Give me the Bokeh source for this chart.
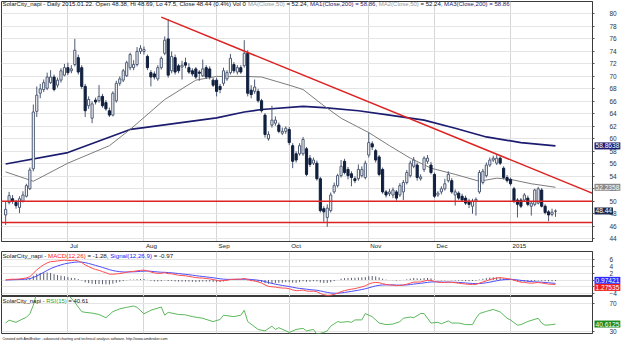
import numpy as np
import pandas as pd
from bokeh.plotting import figure
from bokeh.layouts import column
from bokeh.models import ColumnDataSource, Range1d, FixedTicker, Span, Label, Title
from bokeh.embed import file_html
from bokeh.resources import INLINE

# ---------------- data ----------------
opens = [47.8, 49.8, 50.4, 49.8, 49.0, 50.0, 50.8, 52.0, 55.2, 64.4, 67.3, 67.9, 68.1, 69.0, 69.9, 68.6, 69.4, 70.2,
         71.4, 70.9, 71.9, 73.0, 71.4, 68.4, 65.3, 63.3, 66.2, 66.1, 66.8, 65.8, 64.5, 63.8, 66.1, 68.9, 69.4, 70.1,
         71.4, 71.4, 71.9, 74.0, 74.0, 73.2, 70.6, 70.4, 69.6, 71.4, 73.7, 76.0, 70.9, 73.0, 71.7, 71.5, 72.2, 71.4,
         70.9, 71.2, 70.7, 70.1, 71.4, 71.2, 69.4, 69.4, 68.4, 68.9, 69.6, 70.6, 71.9, 70.7, 71.4, 71.7, 73.7, 67.8,
         67.6, 67.6, 66.1, 63.8, 60.0, 62.2, 62.5, 62.2, 60.9, 61.2, 61.5, 58.9, 57.6, 57.6, 57.6, 58.4, 56.9, 56.1,
         56.1, 53.6, 48.8, 47.4, 48.5, 51.5, 52.5, 54.1, 56.4, 55.1, 54.4, 53.6, 53.6, 54.1, 53.8, 57.4, 59.2, 58.1,
         57.1, 55.1, 51.5, 51.2, 51.0, 51.5, 51.0, 51.5, 53.0, 54.1, 55.6, 55.8, 53.6, 55.1, 56.4, 55.8, 54.3, 51.0,
         51.5, 52.0, 53.3, 53.3, 51.0, 51.3, 50.8, 50.5, 50.0, 49.2, 50.0, 51.5, 53.0, 54.1, 55.8, 56.6, 56.1, 56.9,
         55.3, 53.8, 53.5, 52.0, 50.2, 50.2, 50.2, 50.5, 49.2, 49.5, 49.7, 51.8, 49.2, 48.3, 47.9, 48.38]
highs = [50.0, 51.5, 51.0, 50.2, 50.8, 51.6, 52.8, 55.4, 65.5, 68.4, 68.8, 69.5, 70.6, 71.0, 70.3, 69.8, 71.3, 72.0,
         72.2, 71.8, 76.0, 73.5, 71.8, 68.8, 66.8, 66.0, 66.6, 68.6, 67.2, 66.2, 65.0, 67.6, 69.3, 70.0, 71.2, 72.5,
         73.8, 72.6, 74.7, 75.0, 74.8, 73.5, 71.0, 70.8, 71.8, 73.2, 76.4, 79.2, 74.0, 73.5, 72.0, 72.5, 73.0, 72.1,
         71.3, 71.5, 71.0, 72.7, 71.8, 71.6, 69.8, 69.8, 68.8, 71.4, 71.0, 73.6, 72.3, 71.8, 71.8, 75.8, 74.2, 68.6,
         69.5, 68.0, 66.4, 64.1, 61.2, 65.3, 63.6, 62.6, 61.8, 62.0, 61.9, 59.3, 58.0, 59.3, 60.3, 58.7, 57.4, 57.0,
         56.5, 53.9, 49.2, 49.5, 51.4, 53.0, 54.4, 56.6, 56.8, 55.5, 54.8, 54.0, 55.9, 55.6, 56.5, 61.0, 59.6, 58.4,
         57.4, 55.4, 51.8, 52.0, 52.2, 51.8, 52.9, 53.4, 55.0, 56.5, 57.1, 56.2, 54.3, 57.2, 57.4, 56.3, 54.6, 51.6,
         52.4, 53.6, 54.8, 53.7, 51.9, 51.6, 51.2, 50.9, 50.4, 50.4, 50.6, 55.0, 55.2, 56.2, 57.0, 57.3, 57.4, 57.2,
         55.6, 54.2, 53.8, 52.3, 50.5, 50.5, 51.3, 50.9, 50.0, 52.0, 52.3, 52.1, 49.5, 48.6, 48.8, 48.69]
lows = [46.2, 49.5, 49.6, 48.8, 48.1, 49.8, 50.6, 51.8, 54.8, 63.5, 66.5, 67.5, 67.8, 68.8, 67.6, 68.2, 69.0, 70.0,
        70.2, 70.5, 71.6, 70.3, 68.0, 63.5, 64.8, 62.5, 65.5, 65.8, 65.0, 64.5, 63.5, 63.6, 65.8, 68.5, 69.1, 69.9,
        71.0, 71.0, 71.6, 73.6, 73.5, 71.0, 68.4, 69.5, 69.3, 71.1, 73.4, 69.8, 70.5, 70.3, 70.5, 69.5, 71.3, 70.4,
        70.0, 69.6, 69.3, 69.9, 69.6, 69.5, 68.3, 66.8, 67.3, 68.5, 69.3, 70.3, 70.5, 70.3, 70.4, 71.4, 66.8, 66.5,
        67.2, 65.8, 64.2, 60.2, 59.7, 61.8, 62.1, 60.9, 60.6, 60.8, 59.0, 55.3, 56.2, 57.3, 57.3, 54.0, 55.5, 55.8,
        53.3, 48.2, 46.7, 45.9, 48.2, 51.2, 52.2, 53.8, 54.3, 53.5, 52.4, 52.9, 53.3, 53.8, 53.5, 57.0, 58.2, 56.2,
        54.0, 51.2, 50.6, 50.8, 50.5, 50.1, 50.7, 50.2, 52.7, 53.8, 55.3, 53.3, 53.3, 54.7, 56.0, 54.3, 50.5, 50.7,
        51.1, 51.7, 53.0, 51.2, 49.3, 50.2, 49.9, 49.4, 48.9, 48.0, 47.7, 51.2, 52.7, 53.8, 55.5, 56.3, 55.8, 55.8,
        53.5, 53.0, 52.5, 49.7, 47.4, 48.9, 49.9, 49.2, 47.7, 49.2, 49.5, 49.0, 47.9, 46.8, 47.6, 47.5]
closes = [48.7, 50.9, 50.0, 49.3, 50.4, 51.0, 52.5, 55.0, 64.3, 67.0, 68.0, 69.0, 69.9, 69.9, 67.9, 69.4, 70.9, 71.4,
          70.6, 71.2, 74.2, 70.7, 68.4, 64.5, 66.3, 65.6, 65.9, 66.8, 65.3, 64.8, 63.8, 67.3, 68.9, 69.6, 70.9, 72.2,
          73.5, 71.9, 74.0, 74.5, 74.3, 71.4, 69.9, 69.9, 71.4, 72.9, 75.8, 70.2, 73.2, 70.7, 70.9, 71.8, 71.8, 70.7,
          70.4, 69.9, 70.5, 71.2, 69.9, 69.9, 68.6, 67.6, 67.9, 70.9, 70.6, 72.9, 70.9, 71.4, 70.7, 73.7, 67.3, 67.1,
          68.3, 66.1, 64.5, 60.7, 60.7, 63.0, 63.0, 61.2, 61.2, 61.7, 59.4, 56.4, 56.6, 58.9, 59.9, 54.3, 55.9, 56.6,
          53.6, 48.5, 48.3, 48.9, 51.0, 52.5, 54.1, 55.6, 54.6, 54.1, 53.8, 53.3, 55.1, 55.1, 56.1, 59.4, 58.7, 56.6,
          54.3, 51.5, 51.0, 51.5, 51.8, 50.5, 52.5, 53.0, 54.6, 56.1, 56.6, 53.8, 53.9, 56.9, 56.9, 54.6, 50.8, 51.3,
          52.0, 52.8, 54.3, 51.5, 51.5, 50.5, 50.2, 49.7, 49.5, 50.0, 50.3, 54.6, 54.8, 55.8, 56.6, 56.9, 56.9, 56.1,
          53.8, 53.3, 52.8, 50.0, 49.5, 49.2, 51.0, 49.5, 49.7, 51.8, 52.0, 49.2, 48.2, 47.8, 48.25, 48.44]

month_idx = [18, 40, 61, 82, 105, 124, 146]
month_labels = ["Jul", "Aug", "Sep", "Oct", "Nov", "Dec", "2015"]

ma50_idx = [0, 8, 18, 30, 36, 46, 55, 61, 69, 74, 82, 86, 92, 97, 105, 111, 117, 123, 130, 137, 142, 146, 152, 159]
ma50_val = [54.7, 53.2, 56.1, 58.9, 61.5, 66.3, 69.4, 70.0, 70.0, 69.9, 68.6, 67.9, 65.3, 63.3, 61.0, 58.9, 56.9,
            55.3, 54.3, 53.2, 53.7, 53.5, 52.8, 52.24]
ma200_idx = [0, 18, 36, 40, 61, 69, 74, 86, 92, 102, 111, 121, 130, 139, 149, 159]
ma200_val = [55.96, 57.8, 61.5, 61.8, 63.35, 64.3, 64.7, 65.2, 65.0, 64.5, 63.8, 63.0, 61.7, 60.3, 59.4, 58.86]

rsi_idx = [0, 1, 3, 5, 6, 7, 8, 9, 12, 15, 18, 20, 22, 23, 25, 27, 29, 31, 33, 35, 37, 38, 40, 42, 45, 46, 47, 50,
           52, 54, 57, 60, 62, 63, 66, 68, 69, 70, 73, 75, 77, 78, 79, 82, 84, 86, 87, 89, 90, 92, 93, 94, 96, 97,
           99, 100, 101, 103, 104, 106, 108, 110, 112, 114, 115, 117, 118, 120, 121, 123, 125, 126, 128, 129, 131,
           133, 135, 136, 137, 139, 141, 143, 145, 146, 148, 149, 151, 154, 155, 156, 158, 159]
rsi_val = [42, 46, 43, 48, 50, 55, 67, 84, 86, 85, 82, 71, 58, 57, 56, 54, 49.5, 58, 62, 64, 66, 64, 55, 60, 64.5,
           53, 57, 54, 53.5, 51, 48.7, 44, 47, 53, 51, 53, 60, 44, 33, 31, 37.6, 33, 35.5, 28.7, 33, 34.5, 31, 33,
           26.5, 28.7, 31, 37.6, 44, 43, 44, 43, 46.4, 46.4, 55.3, 51, 42, 39.8, 40.5, 44, 48.7, 50.5, 49.5, 55.3,
           55.3, 42, 43, 41, 45, 42, 42, 39.8, 39.8, 48.7, 55.3, 58.4, 61.1, 57.6, 48.7, 46.4, 38.9, 39.8, 44.2,
           48.7, 42, 38.9, 39.8, 40.61]

support_levels = [50.0, 46.6]
trend_x = [45, 170]
trend_y = [79.5, 51.2]

price_ticks = list(range(44, 81, 2))
macd_ticks = [6, 4, 2, 0, -2, -4]
rsi_ticks = [70, 30]

last_ma200, last_ma50, last_close = 58.8638, 52.2358, 48.44
last_signal, last_macd, last_rsi = -0.97421, -1.27535, 40.6125

# ---------------- helpers ----------------
FONT = "Liberation Sans"
AW = {' ': 278, '!': 278, '%': 889, '(': 333, ')': 333, ',': 278, '-': 333, '.': 278, '/': 278, ':': 278,
      '=': 584, '_': 556, 'A': 667, 'B': 667, 'C': 722, 'D': 722, 'G': 778, 'H': 722, 'I': 278, 'L': 556,
      'M': 833, 'O': 778, 'R': 722, 'S': 667, 'V': 667, 'a': 556, 'b': 556, 'c': 500, 'd': 556, 'e': 556,
      'f': 278, 'g': 556, 'h': 556, 'i': 222, 'k': 500, 'l': 222, 'm': 833, 'n': 556, 'o': 556, 'p': 556,
      'r': 333, 's': 500, 't': 278, 'u': 556, 'v': 500, 'w': 722, 'x': 500, 'y': 500, 'z': 500}


def em(s):
    return sum(AW.get(c, 556) for c in s) / 1000.0


def rich(fig, segments, x0, y, width_px):
    full = "".join(t for t, _ in segments)
    fs = width_px / em(full)
    x = x0
    for t, col in segments:
        lead = len(t) - len(t.lstrip(" "))
        fig.add_layout(Label(x=x + em(t[:lead]) * fs, y=y, x_units="screen", y_units="screen",
                             text=t.strip(), text_color=col, text_font=FONT,
                             text_font_size=f"{fs:.2f}px", text_baseline="middle", text_align="left"))
        x += em(t) * fs


FW = 591
LEFT = 1
XR = Range1d(-1.2, 169.7)
H_MAIN, H_MACD, H_RSI = 240, 45, 37
GRID = "#e4e4e4"
VGRID = "#d6d6d6"
OUTLINE = "#3a3a3a"
DARK = "#11203f"
EDGE = "#4d5a74"
NAVY = "#1c1c70"


def base(fh, ylo, yhi, ticks, xaxis=False):
    p = figure(frame_width=FW, frame_height=fh, x_range=XR, y_range=Range1d(ylo, yhi),
               y_axis_location="right", x_axis_location="below" if xaxis else None,
               toolbar_location=None, output_backend="svg",
               min_border_left=LEFT, min_border_right=30, min_border_top=0, min_border_bottom=0)
    p.outline_line_color = OUTLINE
    p.outline_line_width = 1
    p.background_fill_color = "white"
    p.border_fill_color = "white"
    ya = p.yaxis[0]
    ya.ticker = FixedTicker(ticks=ticks)
    ya.major_label_text_font = FONT
    ya.major_label_text_font_size = "6.5px"
    ya.major_label_text_color = "#333333"
    ya.major_tick_out = 2
    ya.major_tick_in = 0
    ya.minor_tick_out = 0
    ya.minor_tick_in = 0
    ya.major_tick_line_color = "#555555"
    ya.axis_line_color = OUTLINE
    ya.major_label_standoff = 15
    p.ygrid.grid_line_color = GRID
    p.xgrid.ticker = FixedTicker(ticks=month_idx)
    p.xgrid.grid_line_color = VGRID
    return p


def vlabel(fig, yv, txt, bg, fg="white", dy=0):
    # placed in the right side panel so that it is not clipped to the frame
    fig.add_layout(Label(x=LEFT + FW + 2, x_units="canvas", y=yv, y_units="data", y_offset=dy, text=txt,
                         text_font=FONT, text_font_size="6.6px", text_color=fg, text_baseline="middle",
                         text_align="left", background_fill_color=bg, padding=1), "right")


# ---------------- main price panel ----------------
p = base(H_MAIN, 43.55, 82.0, price_ticks, xaxis=True)
p.min_border_top = 1

xa = p.xaxis[0]
px_per_bar = FW / (XR.end - XR.start)
lab_fs = 6.2
shift_ticks = []
overrides = {}
for m, lbl in zip(month_idx, month_labels):
    t = round(m + (2 + em(lbl) * lab_fs / 2) / px_per_bar, 3)
    shift_ticks.append(t)
    overrides[t] = lbl
xa.ticker = FixedTicker(ticks=shift_ticks)
xa.major_label_overrides = overrides
xa.major_label_text_font = FONT
xa.major_label_text_font_size = f"{lab_fs}px"
xa.major_label_text_color = "#222222"
xa.major_label_standoff = 0
xa.major_tick_out = 0
xa.major_tick_in = 0
xa.minor_tick_out = 0
xa.minor_tick_in = 0
xa.axis_line_color = OUTLINE

n = len(closes)
df = pd.DataFrame(dict(idx=list(range(n)), open=opens, high=highs, low=lows, close=closes))
df["top"] = df[["open", "close"]].max(axis=1)
df["bottom"] = df[["open", "close"]].min(axis=1)
up = df["close"] >= df["open"]
df["fill"] = np.where(up, "white", DARK)
df["edge"] = np.where(up, EDGE, DARK)
src = ColumnDataSource(df)

p.line(ma200_idx, ma200_val, line_color=NAVY, line_width=1.7)
p.line(ma50_idx, ma50_val, line_color="#7c7c7c", line_width=1)
p.segment(x0="idx", y0="low", x1="idx", y1="high", source=src, line_color=EDGE, line_width=1)
p.vbar(x="idx", top="top", bottom="bottom", width=0.62, source=src,
       fill_color="fill", line_color="edge", line_width=1)

for lv in support_levels:
    p.add_layout(Span(location=lv, dimension="width", line_color="#dd2222", line_width=1.5))
p.line(trend_x, trend_y, line_color="#dd2222", line_width=1.5)

rich(p, [("SolarCity_napi - Daily 2015.01.22. Open 48.38, Hi 48.69, Lo 47.5, Close 48.44 (0.4%) Vol 0 ", "#111111"),
         ("MA(Close,50)", "#999999"), (" = 52.24, ", "#111111"),
         ("MA1(Close,200) = 58.86, ", NAVY),
         ("MA2(Close,50)", "#999999"), (" = 52.24, ", "#111111"),
         ("MA3(Close,200) = 58.86", NAVY)], 1, H_MAIN - 2.6, 507)

vlabel(p, last_ma200, "58.8638", NAVY)
vlabel(p, last_ma50, "52.2358", "#8a8a8a")
vlabel(p, last_close, "48.44", "#1b2c4e")

# ---------------- MACD panel ----------------
cs = pd.Series(closes, dtype=float)
macd = cs.ewm(span=12, adjust=False).mean() - cs.ewm(span=26, adjust=False).mean()
signal = macd.ewm(span=9, adjust=False).mean()
hist = macd - signal
msrc = ColumnDataSource(dict(idx=list(range(n)), macd=macd.values, signal=signal.values,
                             hist=hist.values, zero=np.zeros(n)))

pm = base(H_MACD, -4.8, 8.3, macd_ticks)
pm.segment(x0="idx", y0="zero", x1="idx", y1="hist", source=msrc, line_color="#5a6070", line_width=1)
pm.line("idx", "signal", source=msrc, line_color="#4d4dff", line_width=1)
pm.line("idx", "macd", source=msrc, line_color="#ff4d4d", line_width=1)
rich(pm, [("SolarCity_napi - ", "#111111"), ("MACD(12,26)", "#ff2020"), (" = -1.28, ", "#111111"),
          ("Signal(12,26,9)", "#2020ff"), (" = -0.97", "#111111")], 1, H_MACD - 3.8, 170.6)
vlabel(pm, last_signal, "0.97421", "#2a2aff", dy=3)
vlabel(pm, last_macd, "1.27535", "#ee1c1c", dy=-3)

# ---------------- RSI panel ----------------
pr = base(H_RSI, 27.3, 79.3, rsi_ticks)
pr.line(rsi_idx, rsi_val, line_color="#5cb85c", line_width=1)
rich(pr, [("SolarCity_napi - ", "#111111"), ("RSI(15)", "#2e9e2e"), (" = 40.61", "#111111")],
     1, H_RSI - 4.6, 85.8)
vlabel(pr, last_rsi, "40.6125", "#1d8a1d")
footer = "Created with AmiBroker - advanced charting and technical analysis software. http://www.amibroker.com"
pr.add_layout(Title(text=footer, align="left", text_font=FONT, text_font_size=f"{165.8 / em(footer):.2f}px",
                    text_font_style="normal", text_color="#111111", standoff=2, offset=1), "below")

layout = column(p, pm, pr, spacing=0)
open("out.html", "w").write(file_html(layout, INLINE))
